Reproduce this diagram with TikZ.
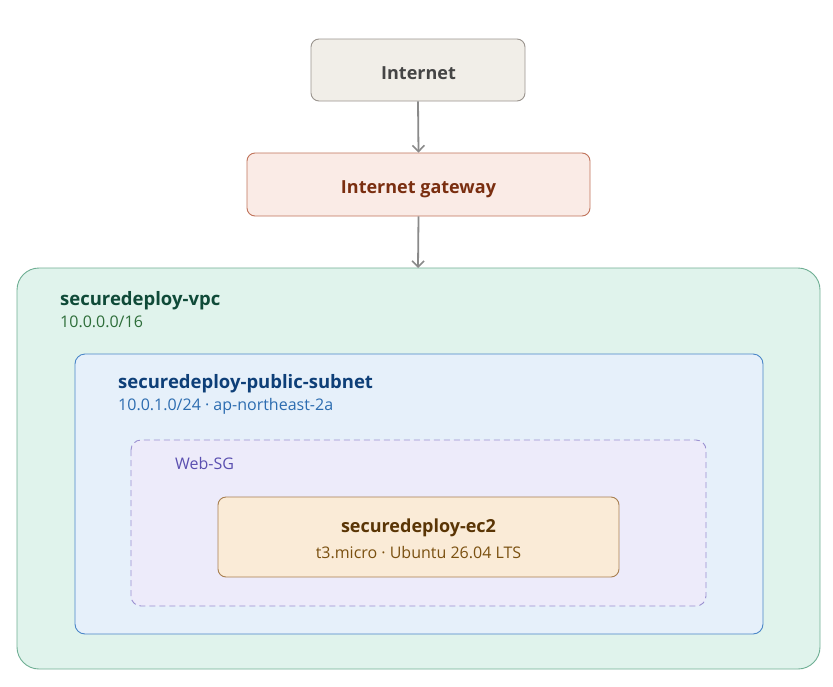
\documentclass[tikz,border=0pt]{standalone}
\usepackage{fontspec}
\setmainfont{Open Sans}
\usetikzlibrary{arrows.meta}
\definecolor{inetfill}{HTML}{F1EEE8}
\definecolor{inetdraw}{HTML}{9A948E}
\definecolor{inettext}{HTML}{454545}
\definecolor{igwfill}{HTML}{FAEBE6}
\definecolor{igwdraw}{HTML}{C0735A}
\definecolor{igwtext}{HTML}{7A2E10}
\definecolor{vpcfill}{HTML}{E0F3EC}
\definecolor{vpcdraw}{HTML}{6FAF94}
\definecolor{vpctitle}{HTML}{0F4A38}
\definecolor{vpcsub}{HTML}{2E6E3A}
\definecolor{subfill}{HTML}{E6F0FA}
\definecolor{subdraw}{HTML}{4A86C8}
\definecolor{subtitle}{HTML}{0E3F78}
\definecolor{subsub}{HTML}{2C6CB0}
\definecolor{sgfill}{HTML}{EDEBFA}
\definecolor{sgdraw}{HTML}{9A90D0}
\definecolor{sgtext}{HTML}{5A4FB0}
\definecolor{ecfill}{HTML}{FAEBD7}
\definecolor{ecdraw}{HTML}{A87F50}
\definecolor{ectitle}{HTML}{5A3505}
\definecolor{ecsub}{HTML}{7A5010}
\definecolor{arrowc}{HTML}{8A8A8A}
\tikzset{
  box/.style={draw, line width=0.9pt, rounded corners=8pt},
  lbl/.style={inner sep=0pt, anchor=base west},
  ttl/.style={font=\fontsize{18.5}{22}\selectfont\bfseries},
  nttl/.style={font=\fontsize{18}{22}\selectfont\bfseries},
  sub/.style={font=\fontsize{16}{19}\selectfont},
  conn/.style={draw=arrowc, line width=1.8pt, -{Straight Barb[length=6pt,width=12pt,line width=1.6pt]}}
}
\begin{document}
\begin{tikzpicture}[x=1pt,y=-1pt]
\useasboundingbox[fill=white] (0,0) rectangle (833,686);
% containers
\path[box, fill=vpcfill, draw=vpcdraw, rounded corners=22pt] (17,268) rectangle (820,669);
\node[lbl, ttl, text=vpctitle] (vpct) at (60,305) {securedeploy-vpc};
\node[lbl, sub, text=vpcsub] (vpcs) at (60,327) {10.0.0.0/16};
\path[box, fill=subfill, draw=subdraw, rounded corners=10pt] (75,354) rectangle (763,634);
\node[lbl, ttl, text=subtitle] (subt) at (118,388) {securedeploy-public-subnet};
\node[lbl, sub, text=subsub] (subs) at (118,410) {10.0.1.0/24 · ap-northeast-2a};
\path[box, fill=sgfill, draw=sgdraw, dashed, dash pattern=on 6pt off 4pt, rounded corners=10pt] (131,440) rectangle (706,606);
\node[lbl, sub, text=sgtext] (sgt) at (175,469) {Web-SG};
% nodes
\node[box, fill=inetfill, draw=inetdraw, minimum width=214pt, minimum height=62pt] (inet) at (418,70) {};
\node[lbl, anchor=base, nttl, text=inettext] (inett) at (418.5,79) {Internet};
\node[box, fill=igwfill, draw=igwdraw, minimum width=343pt, minimum height=63pt] (igw) at (418.5,184.5) {};
\node[lbl, anchor=base, nttl, text=igwtext] (igwt) at (418.5,193) {Internet gateway};
\node[box, fill=ecfill, draw=ecdraw, minimum width=401pt, minimum height=80pt] (ec2) at (418.5,537) {};
\node[lbl, anchor=base, nttl, text=ectitle] (ect) at (418.5,532) {securedeploy-ec2};
\node[lbl, anchor=base, sub, text=ecsub] (ecs) at (418.5,558) {t3.micro · Ubuntu 26.04 LTS};
\coordinate (vpctop) at (418,268);
% connectors
\draw[conn] (inet.south) -- (igw.north);
\draw[conn] (igw.south) -- (vpctop);
\end{tikzpicture}
\end{document}
